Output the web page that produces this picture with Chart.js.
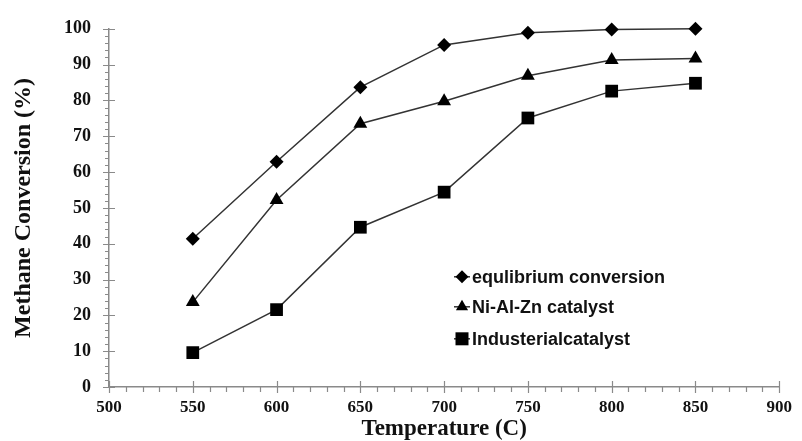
<!DOCTYPE html>
<html>
<head>
<meta charset="utf-8">
<script src="https://cdn.jsdelivr.net/npm/chart.js@4.4.1/dist/chart.umd.min.js"></script>
<style>
  html, body { margin: 0; padding: 0; background: #fff; }
  #wrap { width: 802px; height: 441px; position: relative; }
</style>
</head>
<body>
<div id="wrap"><canvas id="conv"></canvas></div>
<script>
// temperature (C)
const temperatures = [550, 600, 650, 700, 750, 800, 850];
// methane conversion (%)
const equilibrium = [41.4, 62.9, 83.7, 95.5, 98.9, 99.8, 100];
const niAlZn = [23.7, 52.2, 73.5, 79.8, 86.9, 91.3, 91.7];
const industrial = [9.6, 21.6, 44.6, 54.4, 75.1, 82.6, 84.8];
const seriesLabels = ["equlibrium conversion", "Ni-Al-Zn catalyst", "Industerialcatalyst"];

function toPoints(vals) {
  return temperatures.map(function (t, i) { return { x: t, y: vals[i] }; });
}

// axis ticks: major ticks cross the axis, minor ones stay outside
const axisTicks = {
  id: "axisTicks",
  afterDraw(chart) {
    const { ctx, chartArea: a, scales } = chart;
    const x = scales.x, y = scales.y;
    ctx.save();
    ctx.strokeStyle = "#8a8a8a";
    ctx.lineWidth = 1.2;
    ctx.beginPath();
    for (let v = x.min; v <= x.max; v += 10) {
      const px = Math.round(x.getPixelForValue(v)) + 0.5;
      const major = v % 50 === 0;
      ctx.moveTo(px, a.bottom + (major ? 6 : 5));
      ctx.lineTo(px, major ? a.bottom - 6 : a.bottom);
    }
    for (let v = y.min; v <= y.max; v += 2) {
      const py = Math.round(y.getPixelForValue(v)) + 0.5;
      const major = v % 10 === 0;
      ctx.moveTo(a.left - (major ? 6 : 4), py);
      ctx.lineTo(major ? a.left + 6 : a.left, py);
    }
    ctx.stroke();
    ctx.restore();
  }
};

function drawMarker(ctx, style, cx, cy) {
  ctx.beginPath();
  if (style === "rectRot") {
    const r = 6.5;
    ctx.moveTo(cx, cy - r); ctx.lineTo(cx + r, cy); ctx.lineTo(cx, cy + r); ctx.lineTo(cx - r, cy);
  } else if (style === "triangle") {
    const r = 7;
    ctx.moveTo(cx, cy - r); ctx.lineTo(cx + r * 0.87, cy + r * 0.5); ctx.lineTo(cx - r * 0.87, cy + r * 0.5);
  } else {
    const s = 6.5;
    ctx.rect(cx - s, cy - s, 2 * s, 2 * s);
  }
  ctx.closePath();
  ctx.fill();
}

// legend sits inside the plot area
const innerLegend = {
  id: "innerLegend",
  afterDraw(chart) {
    const { ctx, chartArea: a } = chart;
    const x0 = a.left + 353;
    const rows = [a.top + 248, a.top + 278, a.top + 310];
    ctx.save();
    chart.data.datasets.forEach(function (ds, i) {
      const cy = rows[i];
      ctx.strokeStyle = "#333";
      ctx.lineWidth = 1.5;
      ctx.beginPath();
      ctx.moveTo(x0 - 8, cy); ctx.lineTo(x0 + 8, cy);
      ctx.stroke();
      ctx.fillStyle = "#000";
      drawMarker(ctx, ds.pointStyle, x0, cy);
      ctx.font = "bold 18px 'Liberation Sans', Arial, sans-serif";
      ctx.textBaseline = "middle";
      ctx.fillStyle = "#111";
      ctx.fillText(ds.label, x0 + 10, cy + 1);
    });
    ctx.restore();
  }
};

function makeSet(label, vals, style, radius) {
  return {
    label: label,
    data: toPoints(vals),
    borderColor: "#333",
    borderWidth: 1.5,
    pointStyle: style,
    pointRadius: radius,
    pointHoverRadius: radius,
    pointBackgroundColor: "#000",
    pointBorderColor: "#000",
    pointBorderWidth: 0,
    fill: false,
    clip: false,
    tension: 0
  };
}

const ctx = document.getElementById("conv").getContext("2d");
new Chart(ctx, {
  type: "line",
  data: {
    datasets: [
      makeSet(seriesLabels[0], equilibrium, "rectRot", 7),
      makeSet(seriesLabels[1], niAlZn, "triangle", 8),
      makeSet(seriesLabels[2], industrial, "rect", 9)
    ]
  },
  options: {
    responsive: true,
    maintainAspectRatio: false,
    animation: false,
    layout: { padding: { top: 26, right: 21, left: 0, bottom: 0 } },
    plugins: { legend: { display: false }, tooltip: { enabled: false } },
    scales: {
      x: {
        type: "linear",
        min: 500,
        max: 900,
        afterFit(scale) { scale.height = 54; },
        grid: { display: false, drawTicks: false },
        border: { display: true, color: "#8a8a8a", width: 1.5 },
        ticks: {
          stepSize: 50,
          padding: 10,
          color: "#111",
          font: { family: "'Liberation Serif', 'Times New Roman', serif", size: 17, weight: "bold" }
        },
        title: {
          display: true,
          text: "Temperature (C)",
          color: "#111",
          padding: { top: 0, bottom: 0 },
          font: { family: "'Liberation Serif', 'Times New Roman', serif", size: 23, weight: "bold", lineHeight: 1 }
        }
      },
      y: {
        min: 0,
        max: 100,
        afterFit(scale) { scale.width = 109; },
        grid: { display: false, drawTicks: false },
        border: { display: true, color: "#8a8a8a", width: 1.5 },
        ticks: {
          stepSize: 10,
          padding: 18,
          color: "#111",
          font: { family: "'Liberation Serif', 'Times New Roman', serif", size: 18, weight: "bold" }
        },
        title: {
          display: true,
          text: "Methane Conversion (%)",
          color: "#111",
          padding: { top: 9, bottom: 0 },
          font: { family: "'Liberation Serif', 'Times New Roman', serif", size: 24, weight: "bold", lineHeight: 1.2 }
        }
      }
    }
  },
  plugins: [axisTicks, innerLegend]
});
</script>
</body>
</html>
